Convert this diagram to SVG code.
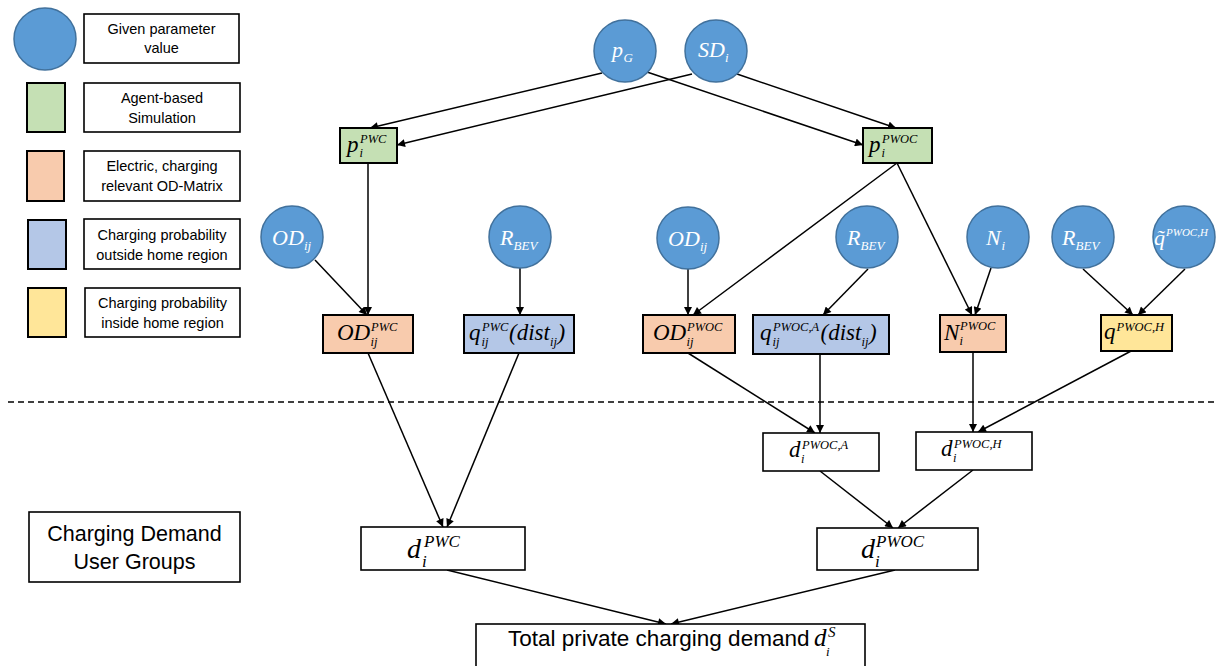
<svg xmlns="http://www.w3.org/2000/svg" width="1217" height="666" viewBox="0 0 1217 666">
<style>
.circ{fill:#5B9BD5;stroke:#41719C;stroke-width:1.5}
.bx{stroke:#000;stroke-width:2}
.wb{fill:#fff;stroke:#000;stroke-width:1.6}
.gr{fill:#C5E0B4}.or{fill:#F8CBAD}.bl{fill:#B4C7E7}.ye{fill:#FFE699}.wh{fill:#fff}
.lt{font-family:"Liberation Sans",Arial,sans-serif;font-size:14.5px;text-anchor:middle;fill:#000}
.bt{font-family:"Liberation Sans",Arial,sans-serif;font-size:21.5px;fill:#000}
.m{font-family:"Liberation Serif","Times New Roman",serif;font-style:italic;fill:#000}
.mw{font-family:"Liberation Serif","Times New Roman",serif;font-style:italic;fill:#fff;font-size:22px}
.f23{font-size:23px}.f28{font-size:28px}.s12{font-size:12.5px}.s13{font-size:13px}.s17{font-size:17px}.s11{font-size:11px}
.edge{stroke:#000;stroke-width:1.5;fill:none;marker-end:url(#arr)}
.dash{stroke:#000;stroke-width:1.5;stroke-dasharray:6 4;fill:none}
</style>
<defs>
<marker id="arr" viewBox="0 0 10 10" refX="10" refY="5" markerWidth="9" markerHeight="8" markerUnits="userSpaceOnUse" orient="auto">
<path d="M0,0 L10,5 L0,10 z" fill="#000"/>
</marker>
</defs>
<rect width="1217" height="666" fill="#fff"/>

<g id="legend">
<circle class="circ" cx="45" cy="39" r="31"/>
<rect class="wb" x="84" y="14" width="155" height="49"/>
<text class="lt" x="161.5" y="34">Given parameter</text>
<text class="lt" x="161.5" y="53">value</text>
<rect class="bx gr" x="27" y="83" width="38" height="49"/>
<rect class="wb" x="84" y="83" width="156" height="49"/>
<text class="lt" x="162" y="103">Agent-based</text>
<text class="lt" x="162" y="123">Simulation</text>
<rect class="bx or" x="27" y="151" width="37" height="50"/>
<rect class="wb" x="84" y="151" width="156" height="50"/>
<text class="lt" x="162" y="171">Electric, charging</text>
<text class="lt" x="162" y="191">relevant OD-Matrix</text>
<rect class="bx bl" x="28" y="220" width="38" height="49"/>
<rect class="wb" x="84" y="219" width="156" height="50"/>
<text class="lt" x="162" y="240">Charging probability</text>
<text class="lt" x="162" y="260">outside home region</text>
<rect class="bx ye" x="28" y="288" width="38" height="49"/>
<rect class="wb" x="85" y="288" width="155" height="49"/>
<text class="lt" x="162.5" y="308">Charging probability</text>
<text class="lt" x="162.5" y="328">inside home region</text>
</g>

<g id="user-groups">
<rect class="wb" x="29" y="512" width="211" height="70"/>
<text class="bt" x="134.5" y="541" text-anchor="middle">Charging Demand</text>
<text class="bt" x="134.5" y="569" text-anchor="middle">User Groups</text>
</g>

<line class="dash" x1="8" y1="402" x2="1217" y2="402"/>

<g id="connectors">
<line class="edge" x1="602" y1="73" x2="370" y2="128"/>
<line class="edge" x1="692" y1="74" x2="397" y2="145"/>
<line class="edge" x1="647" y1="72" x2="863" y2="145"/>
<line class="edge" x1="737" y1="74" x2="896" y2="128"/>
<line class="edge" x1="368" y1="163" x2="368" y2="315"/>
<line class="edge" x1="315" y1="260" x2="367" y2="315"/>
<line class="edge" x1="520" y1="268" x2="520" y2="315"/>
<line class="edge" x1="688" y1="269" x2="688" y2="315"/>
<line class="edge" x1="897" y1="163" x2="693" y2="315"/>
<line class="edge" x1="868" y1="269" x2="823" y2="315"/>
<line class="edge" x1="897" y1="163" x2="972" y2="315"/>
<line class="edge" x1="991" y1="268" x2="975" y2="315"/>
<line class="edge" x1="1083" y1="269" x2="1133" y2="315"/>
<line class="edge" x1="1185" y1="269" x2="1138" y2="315"/>
<line class="edge" x1="368" y1="353" x2="443" y2="527"/>
<line class="edge" x1="519" y1="353" x2="447" y2="527"/>
<line class="edge" x1="688" y1="353" x2="815" y2="433"/>
<line class="edge" x1="820" y1="354" x2="820" y2="433"/>
<line class="edge" x1="973" y1="352" x2="973" y2="432"/>
<line class="edge" x1="1133" y1="350" x2="978" y2="432"/>
<line class="edge" x1="820" y1="471" x2="893" y2="528"/>
<line class="edge" x1="973" y1="470" x2="898" y2="528"/>
<line class="edge" x1="447" y1="570" x2="666" y2="624"/>
<line class="edge" x1="895" y1="570" x2="671" y2="624"/>
</g>

<g id="pG">
<circle class="circ" cx="625" cy="51" r="31"/>
<text class="mw" x="612" y="57">p<tspan class="s13" x="623.5" y="62">G</tspan></text>
</g>
<g id="SDi">
<circle class="circ" cx="716" cy="51" r="31"/>
<text class="mw" x="698" y="57">SD<tspan class="s13" x="725" y="62">i</tspan></text>
</g>
<g id="p-PWC">
<rect class="bx gr" x="340" y="128" width="57" height="35"/>
<text class="m f23" x="347" y="151.5">p<tspan class="s12" x="359.5" y="157">i</tspan><tspan class="s12" x="360" y="142.5">PWC</tspan></text>
</g>
<g id="p-PWOC">
<rect class="bx gr" x="863" y="128" width="69" height="35"/>
<text class="m f23" x="869" y="151.5">p<tspan class="s12" x="881.5" y="157">i</tspan><tspan class="s12" x="882" y="142.5">PWOC</tspan></text>
</g>

<g id="ODij-1">
<circle class="circ" cx="292" cy="237" r="31"/>
<text class="mw" x="272" y="245">OD<tspan class="s13" x="304" y="250">ij</tspan></text>
</g>
<g id="RBEV-1">
<circle class="circ" cx="520" cy="237" r="31"/>
<text class="mw" x="500" y="245">R<tspan class="s13" x="513.5" y="250">BEV</tspan></text>
</g>
<g id="ODij-2">
<circle class="circ" cx="688" cy="238" r="31"/>
<text class="mw" x="668" y="246">OD<tspan class="s13" x="700" y="251">ij</tspan></text>
</g>
<g id="RBEV-2">
<circle class="circ" cx="867" cy="237" r="31"/>
<text class="mw" x="847" y="245">R<tspan class="s13" x="860.5" y="250">BEV</tspan></text>
</g>
<g id="Ni">
<circle class="circ" cx="998" cy="237" r="31"/>
<text class="mw" x="986" y="245">N<tspan class="s13" x="1001.5" y="250">i</tspan></text>
</g>
<g id="RBEV-3">
<circle class="circ" cx="1083" cy="237" r="31"/>
<text class="mw" x="1062" y="245">R<tspan class="s13" x="1075.5" y="250">BEV</tspan></text>
</g>
<g id="qtilde">
<circle class="circ" cx="1184" cy="237" r="31"/>
<text class="mw" x="1154" y="245">q̃<tspan class="s11" x="1166" y="236">PWOC,H</tspan></text>
</g>

<g id="OD-PWC">
<rect class="bx or" x="323" y="315" width="90" height="38"/>
<text class="m f23" x="337" y="340">OD<tspan class="s12" x="370.5" y="345.5">ij</tspan><tspan class="s12" x="371" y="330.5">PWC</tspan></text>
</g>
<g id="q-PWC">
<rect class="bx bl" x="464" y="315" width="110" height="38"/>
<text class="m f23" x="469" y="340">q<tspan class="s12" x="481.5" y="345.5">ij</tspan><tspan class="s12" x="482" y="330.5">PWC</tspan><tspan x="509" y="340">(dist</tspan><tspan class="s12" x="550" y="345.5">ij</tspan><tspan x="557.5" y="340">)</tspan></text>
</g>
<g id="OD-PWOC">
<rect class="bx or" x="643" y="315" width="92" height="38"/>
<text class="m f23" x="653" y="340">OD<tspan class="s12" x="686.5" y="345.5">ij</tspan><tspan class="s12" x="687" y="330.5">PWOC</tspan></text>
</g>
<g id="q-PWOC-A">
<rect class="bx bl" x="753" y="315" width="136" height="39"/>
<text class="m f23" x="760" y="340">q<tspan class="s12" x="772.5" y="345.5">ij</tspan><tspan class="s12" x="773" y="330.5">PWOC,A</tspan><tspan x="820.5" y="340">(dist</tspan><tspan class="s12" x="861.5" y="345.5">ij</tspan><tspan x="869" y="340">)</tspan></text>
</g>
<g id="N-PWOC">
<rect class="bx or" x="940" y="315" width="66" height="37"/>
<text class="m f23" x="944" y="339.5">N<tspan class="s12" x="959.5" y="345">i</tspan><tspan class="s12" x="960" y="330">PWOC</tspan></text>
</g>
<g id="q-PWOC-H">
<rect class="bx ye" x="1101" y="315" width="71" height="36"/>
<text class="m f23" x="1104" y="339">q<tspan class="s12" x="1116.5" y="331">PWOC,H</tspan></text>
</g>

<g id="d-PWOC-A">
<rect class="wb" x="763" y="433" width="116" height="38"/>
<text class="m f23" x="789" y="457">d<tspan class="s12" x="801" y="463">i</tspan><tspan class="s12" x="802" y="448.5">PWOC,A</tspan></text>
</g>
<g id="d-PWOC-H">
<rect class="wb" x="916" y="432" width="116" height="38"/>
<text class="m f23" x="941" y="456">d<tspan class="s12" x="953" y="462">i</tspan><tspan class="s12" x="954" y="447.5">PWOC,H</tspan></text>
</g>

<g id="d-PWC">
<rect class="wb" x="361" y="527" width="164" height="43"/>
<text class="m f28" x="407" y="558">d<tspan class="s17" x="422" y="567">i</tspan><tspan class="s17" x="424" y="546.5">PWC</tspan></text>
</g>
<g id="d-PWOC">
<rect class="wb" x="817" y="528" width="161" height="42"/>
<text class="m f28" x="861" y="558">d<tspan class="s17" x="875" y="567">i</tspan><tspan class="s17" x="876" y="546.5">PWOC</tspan></text>
</g>

<g id="total">
<rect class="wb" x="476" y="624" width="389" height="44"/>
<text class="bt" x="508" y="646" style="font-size:22.5px">Total private charging demand <tspan class="m" style="font-size:25px" x="814" y="646">d</tspan><tspan class="m s13" x="826" y="656">i</tspan><tspan class="m" style="font-size:15px" x="828" y="637">S</tspan></text>
</g>
</svg>
